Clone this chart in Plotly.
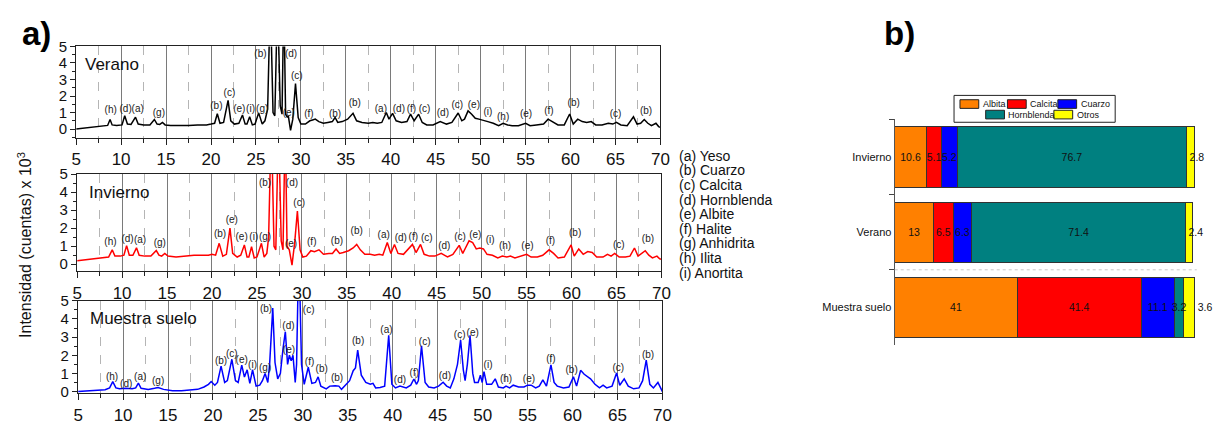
import plotly.graph_objects as go

W, H = 1227, 425
FONT = "Liberation Sans, Arial, sans-serif"

# ---------------- DATA ----------------
# (2-theta, intensity x10^3)
verano = [(5,0.0),(6,0.06),(7,0.12),(8,0.18),(8.5,0.22),(8.77,0.58),(9.0,0.25),(9.5,0.22),(10.1,0.25),(10.4,0.81),(10.7,0.3),
          (11.1,0.28),(11.6,0.72),(11.9,0.3),(12.5,0.25),(13.2,0.25),(13.7,0.58),(14.0,0.3),(14.3,0.28),(14.6,0.4),(14.9,0.25),
          (15.5,0.22),(16.5,0.2),(17.5,0.22),(18.5,0.25),(19.5,0.25),(20.0,0.3),(20.4,0.35),(20.7,0.93),(21.0,0.35),(21.4,0.4),
          (21.9,1.74),(22.2,0.5),(22.6,0.3),(23.1,0.35),(23.5,0.85),(23.8,0.3),(24.0,0.3),(24.3,0.75),(24.6,0.25),(24.9,0.3),
          (25.3,0.98),(25.7,0.3),(26.0,0.5),(26.3,1.2),(26.6,8.0),(26.9,1.0),(27.1,0.8),(27.4,8.0),(27.7,1.4),(27.9,0.9),
          (28.1,8.0),(28.3,0.9),(28.5,0.7),(28.6,0.8),(28.85,-0.08),(29.1,0.6),(29.4,2.75),(29.7,0.7),(30.0,0.3),(30.5,0.3),
          (31.0,0.5),(31.3,0.55),(31.6,0.6),(32.0,0.45),(32.5,0.35),(33.0,0.4),(33.5,0.45),(33.8,0.7),(34.1,0.4),(34.6,0.45),
          (35.2,0.6),(35.8,0.95),(36.2,0.5),(36.8,0.4),(37.5,0.35),(38.0,0.4),(38.5,0.35),(39.0,0.4),(39.5,1.0),(39.8,0.6),
          (40.2,0.95),(40.6,0.5),(41.2,0.4),(41.8,0.45),(42.2,0.9),(42.6,0.5),(43.1,0.9),(43.5,0.4),(44.0,0.25),(44.7,0.25),
          (45.5,0.45),(46.2,0.3),(46.8,0.4),(47.5,0.97),(47.9,0.5),(48.2,0.6),(48.6,1.1),(49.0,0.9),(49.4,0.65),(49.8,0.6),
          (50.2,0.55),(50.8,0.45),(51.4,0.35),(52.0,0.2),(52.5,0.35),(53.0,0.25),(53.5,0.2),(54.2,0.2),(55.0,0.35),(55.5,0.2),
          (56.2,0.25),(57.0,0.3),(57.5,0.6),(58.0,0.45),(58.6,0.25),(59.3,0.25),(59.9,0.91),(60.3,0.3),(60.8,0.6),(61.3,0.45),
          (61.8,0.4),(62.3,0.45),(62.8,0.25),(63.5,0.25),(64.2,0.35),(64.7,0.3),(65.1,0.4),(65.6,0.25),(66.3,0.2),(67.0,0.74),
          (67.4,0.3),(67.8,0.35),(68.2,0.58),(68.6,0.35),(69.0,0.2),(69.5,0.35),(69.8,0.15),(70.0,0.1)]

invierno = [(5,0.2),(6,0.25),(7,0.3),(8,0.35),(8.5,0.4),(8.9,0.8),(9.2,0.45),(9.8,0.45),(10.2,0.5),(10.5,1.03),(10.8,0.5),
            (11.2,0.5),(11.6,0.91),(11.9,0.5),(12.5,0.45),(13.2,0.45),(13.8,0.76),(14.1,0.5),(14.4,0.45),(14.75,0.6),(15.1,0.45),
            (16,0.4),(17,0.45),(18,0.5),(19,0.5),(19.6,0.5),(20.0,0.55),(20.4,0.5),(20.8,1.16),(21.2,0.45),(21.6,0.55),(22.0,2.0),
            (22.3,0.6),(22.8,0.4),(23.2,0.5),(23.6,1.07),(23.9,0.4),(24.1,0.4),(24.4,0.97),(24.7,0.35),(25.0,0.4),(25.5,1.16),
            (25.8,0.4),(26.1,0.6),(26.3,1.5),(26.6,8),(26.9,1.0),(27.1,0.8),(27.4,8),(27.7,1.3),(27.9,0.8),(28.15,8),(28.35,1.0),
            (28.6,0.8),(28.9,-0.05),(29.2,1.2),(29.5,2.95),(29.8,0.8),(30.1,0.4),(30.5,0.45),(31.0,0.75),(31.4,0.7),(31.9,0.8),
            (32.4,0.55),(33.0,0.6),(33.4,0.6),(33.8,0.85),(34.2,0.6),(34.6,0.65),(35.2,0.75),(35.7,0.9),(36.1,1.1),(36.5,0.8),
            (37.0,0.55),(37.6,0.55),(38.1,0.5),(38.6,0.55),(39.0,0.5),(39.5,1.2),(39.9,0.6),(40.3,1.1),(40.7,0.6),(41.3,0.55),
            (41.8,0.8),(42.3,1.1),(42.7,0.65),(43.2,1.1),(43.6,0.55),(44.2,0.45),(44.8,0.45),(45.5,0.6),(46.2,0.4),(46.8,0.55),
            (47.5,1.05),(47.9,0.6),(48.2,0.9),(48.6,1.3),(49.0,1.2),(49.4,0.85),(49.8,0.9),(50.2,0.85),(50.6,0.55),(51.2,0.5),
            (51.8,0.35),(52.3,0.45),(52.8,0.4),(53.2,0.45),(53.7,0.35),(54.3,0.45),(55.0,0.55),(55.5,0.4),(56.2,0.4),(56.8,0.5),
            (57.5,0.8),(58.0,0.6),(58.5,0.35),(59.2,0.4),(59.95,1.07),(60.3,0.45),(60.8,0.85),(61.3,0.55),(61.8,0.7),(62.3,0.65),
            (62.8,0.4),(63.5,0.4),(64.0,0.55),(64.4,0.45),(64.8,0.6),(65.3,0.4),(66.0,0.4),(66.5,0.45),(67.0,0.9),(67.4,0.45),
            (67.8,0.6),(68.2,0.75),(68.6,0.5),(69.0,0.35),(69.5,0.45),(69.8,0.3),(70.0,0.28)]

suelo = [(5,0.0),(6,0.02),(7,0.05),(8,0.1),(8.5,0.2),(8.85,0.55),(9.2,0.2),(9.6,0.15),(10.3,0.18),(11.0,0.15),(11.4,0.2),
         (11.7,0.46),(12.0,0.18),(12.8,0.12),(13.5,0.18),(13.9,0.22),(14.5,0.12),(15.5,0.05),(16.5,0.05),(17.5,0.08),(18.3,0.12),
         (19.0,0.25),(19.5,0.4),(19.8,0.55),(20.2,0.35),(20.5,0.5),(20.9,1.4),(21.3,0.5),(21.6,0.6),(22.1,1.78),(22.5,0.6),
         (22.8,0.5),(23.2,1.46),(23.5,0.8),(23.8,1.2),(24.1,0.45),(24.4,1.2),(24.8,0.3),(25.2,0.35),(25.5,0.6),(25.8,0.99),
         (26.1,0.5),(26.3,1.5),(26.65,4.6),(26.9,1.6),(27.2,0.7),(27.5,1.0),(27.8,2.4),(28.05,3.3),(28.3,1.5),(28.5,2.0),
         (28.7,1.7),(28.9,2.0),(29.15,0.5),(29.3,1.5),(29.55,8),(29.85,1.5),(30.15,0.4),(30.6,1.34),(31.0,0.45),(31.4,0.5),
         (31.7,0.81),(32.0,0.3),(32.6,0.15),(33.0,0.3),(33.6,0.32),(34.0,0.3),(34.3,0.12),(34.7,0.35),(35.2,0.6),(35.6,1.15),
         (35.85,1.3),(36.1,2.28),(36.5,0.9),(37.0,0.5),(37.5,0.4),(37.8,0.45),(38.1,0.2),(38.6,0.22),(39.1,0.3),(39.55,3.1),
         (39.9,0.4),(40.3,0.2),(40.8,0.3),(41.5,0.2),(42.0,0.35),(42.35,0.69),(42.65,0.4),(42.85,0.6),(43.2,2.52),(43.6,0.5),
         (44.0,0.25),(44.6,0.2),(45.1,0.3),(45.6,0.51),(46.0,0.3),(46.4,0.2),(46.8,0.7),(47.2,1.5),(47.55,2.84),(47.85,1.2),
         (48.05,0.6),(48.3,1.5),(48.6,3.1),(48.9,1.0),(49.1,0.5),(49.5,0.5),(49.75,0.9),(49.95,0.5),(50.15,1.1),(50.45,0.4),
         (51.0,0.4),(51.4,0.7),(51.75,0.25),(52.3,0.2),(52.6,0.3),(53.0,0.2),(53.4,0.35),(54.0,0.25),(54.6,0.25),(55.0,0.35),
         (55.4,0.35),(55.9,0.2),(56.3,0.3),(56.7,0.65),(57.1,0.3),(57.6,1.47),(57.95,0.5),(58.3,0.3),(59.0,0.2),(59.6,0.25),
         (60.1,0.81),(60.45,0.3),(60.9,1.17),(61.3,0.95),(61.6,0.85),(62.0,0.7),(62.5,0.4),(63.0,0.2),(63.4,0.35),(63.8,0.2),
         (64.4,0.3),(64.9,1.02),(65.25,0.35),(65.75,0.7),(66.2,0.3),(66.8,0.15),(67.4,0.2),(67.8,0.6),(68.2,1.73),(68.6,0.4),
         (69.0,0.2),(69.5,0.5),(69.8,0.2),(70.0,0.0)]

# peak labels (2-theta, height, phase letter)
verano_labels = [(8.84,1.12,'(h)'),(10.5,1.2,'(d)'),(11.85,1.2,'(a)'),(14.2,0.97,'(g)'),(20.6,1.35,'(b)'),(22.05,2.13,'(c)'),
                 (23.15,1.16,'(e)'),(24.4,1.16,'(i)'),(25.7,1.16,'(g)'),(25.5,4.5,'(b)'),(28.9,4.5,'(d)'),(29.55,3.2,'(c)'),
                 (28.65,0.93,'(e)'),(30.9,0.87,'(f)'),(33.8,0.87,'(b)'),(36.0,1.55,'(b)'),(38.9,1.2,'(a)'),(40.9,1.2,'(d)'),
                 (42.3,1.2,'(f)'),(43.75,1.16,'(c)'),(45.8,0.97,'(d)'),(47.4,1.45,'(c)'),(49.25,1.45,'(e)'),(50.8,1.03,'(i)'),
                 (52.5,0.72,'(h)'),(55.05,0.87,'(e)'),(57.6,1.06,'(f)'),(60.35,1.55,'(b)'),(65.0,0.87,'(c)'),(68.4,1.06,'(b)')]
invierno_labels = [(8.7,1.2,'(h)'),(10.6,1.39,'(d)'),(12.0,1.33,'(a)'),(14.2,1.17,'(g)'),(20.9,1.65,'(b)'),(22.2,2.42,'(e)'),
                   (23.3,1.48,'(e)'),(24.65,1.48,'(i)'),(25.9,1.48,'(g)'),(25.9,4.5,'(b)'),(28.9,4.5,'(d)'),(29.7,3.38,'(c)'),
                   (28.8,1.12,'(e)'),(31.1,1.2,'(f)'),(33.9,1.25,'(b)'),(36.1,1.83,'(b)'),(39.1,1.57,'(a)'),(41.0,1.43,'(d)'),
                   (42.4,1.5,'(f)'),(43.9,1.43,'(c)'),(45.85,1.0,'(d)'),(47.6,1.51,'(c)'),(49.3,1.57,'(e)'),(50.95,1.33,'(i)'),
                   (52.6,1.0,'(h)'),(55.1,1.0,'(e)'),(57.65,1.25,'(f)'),(60.4,1.69,'(b)'),(65.25,1.05,'(c)'),(68.5,1.35,'(b)')]
suelo_labels = [(8.77,0.76,'(h)'),(10.35,0.39,'(d)'),(11.9,0.76,'(a)'),(13.9,0.56,'(g)'),(20.9,1.68,'(b)'),(22.1,2.03,'(c)'),
                (23.2,1.71,'(e)'),(24.4,1.45,'(i)'),(25.8,1.27,'(g)'),(25.9,4.54,'(b)'),(28.4,3.57,'(d)'),(28.45,2.26,'(e)'),
                (30.65,4.45,'(c)'),(30.75,1.59,'(f)'),(32.1,1.23,'(b)'),(33.8,0.74,'(b)'),(36.15,2.74,'(b)'),(39.3,3.36,'(a)'),
                (40.8,0.63,'(d)'),(42.4,1.02,'(f)'),(43.55,2.72,'(c)'),(45.8,0.81,'(d)'),(47.45,3.1,'(c)'),(48.9,3.2,'(e)'),
                (50.6,1.43,'(i)'),(52.6,0.69,'(h)'),(55.15,0.69,'(e)'),(57.6,1.75,'(f)'),(59.9,1.17,'(b)'),(65.1,1.25,'(c)'),
                (68.4,1.99,'(b)')]

phase_key = ["(a) Yeso", "(b) Cuarzo", "(c) Calcita", "(d) Hornblenda", "(e) Albite",
             "(f) Halite", "(g) Anhidrita", "(h) Ilita", "(i) Anortita"]

# panel b: composition (%)
samples = ["Invierno", "Verano", "Muestra suelo"]
albita = [10.6, 13, 41]
calcita = [5.1, 6.5, 41.4]
cuarzo = [5.2, 6.3, 11.1]
hornblenda = [76.7, 71.4, 3.2]
otros = [2.8, 2.4, 3.6]
components = [("Albita", albita, "#FF8000"), ("Calcita", calcita, "#FF0000"), ("Cuarzo", cuarzo, "#0000FF"),
              ("Hornblenda", hornblenda, "#008080"), ("Otros", otros, "#FFFF00")]

# ---------------- LAYOUT HELPERS ----------------
def xd(x0, x1):
    return [x0 / W, x1 / W]

def yd(y0, y1):
    return [1 - y1 / H, 1 - y0 / H]

fig = go.Figure()

panels = [
    ("Verano", verano, verano_labels, "#000000", "x", "y", (72, 663), (39, 134), -0.52),
    ("Invierno", invierno, invierno_labels, "#FF0000", "x2", "y2", (73, 664), (172, 273), -0.38),
    ("Muestra suelo", suelo, suelo_labels, "#0000FF", "x3", "y3", (74, 665), (304, 400), -0.08),
]

layout_axes = {}
annotations = []
for i, (name, pts, labs, color, xa, ya, (px0, px1), (py0, py1), ymin) in enumerate(panels):
    fig.add_trace(go.Scatter(x=[p[0] for p in pts], y=[p[1] for p in pts], mode="lines",
                             line=dict(color=color, width=1.5), xaxis=xa, yaxis=ya,
                             showlegend=False, hoverinfo="skip"))
    fig.add_trace(go.Scatter(x=[l[0] for l in labs], y=[l[1] for l in labs], text=[l[2] for l in labs],
                             mode="text", textfont=dict(family=FONT, size=10, color="#222222"),
                             textposition="middle center", xaxis=xa, yaxis=ya, cliponaxis=False,
                             showlegend=False, hoverinfo="skip"))
    suffix = "" if i == 0 else str(i + 1)
    layout_axes["xaxis" + suffix] = dict(
        domain=xd(px0, px1), anchor=ya, range=[5, 70], tick0=5, dtick=5,
        ticks="outside", ticklen=6, tickwidth=1.2, tickcolor="#222",
        showline=True, mirror=True, linecolor="#222", linewidth=1.4,
        showgrid=True, gridcolor="#7a7a7a", gridwidth=1.4, zeroline=False,
        minor=dict(dtick=2.5, tick0=5, ticks="outside", ticklen=4, tickcolor="#222",
                   showgrid=True, griddash="dash", gridcolor="#b5b5b5", gridwidth=1.2),
        tickfont=dict(family=FONT, size=17, color="#111"))
    layout_axes["yaxis" + suffix] = dict(
        domain=yd(py0, py1), anchor=xa, range=[ymin, 5], tick0=0, dtick=1,
        ticks="outside", ticklen=5, tickwidth=1.2, tickcolor="#222",
        showline=True, mirror=True, linecolor="#222", linewidth=1.4,
        showgrid=False, zeroline=False,
        minor=dict(dtick=0.5, tick0=0, ticks="outside", ticklen=3, tickcolor="#222"),
        tickfont=dict(family=FONT, size=15, color="#111"))
    annotations.append(dict(text=name, xref=xa + " domain", yref=ya + " domain", x=0.012 if i == 0 else 0.016,
                            y=0.93, xanchor="left", yanchor="top", showarrow=False,
                            font=dict(family=FONT, size=17, color="#111")))

# panel b bars (coloured segments)
for cname, vals, col in components:
    fig.add_trace(go.Bar(y=samples, x=vals, orientation="h", name=cname,
                         marker=dict(color=col, line=dict(color="#333", width=1)),
                         xaxis="x4", yaxis="y4", showlegend=False, hoverinfo="skip"))
# value labels: same stacked bars, transparent, on an overlaid subplot so text sits above every segment
for cname, vals, col in components:
    if cname == "Otros":
        tpos = ["inside", "inside", "outside"]
    else:
        tpos = "inside"
    fig.add_trace(go.Bar(y=samples, x=vals, orientation="h", name=cname + " valor",
                         marker=dict(color="rgba(0,0,0,0)", line=dict(width=0)),
                         text=[f"{v:g}" for v in vals], textposition=tpos,
                         insidetextanchor="start" if cname == "Otros" else "middle",
                         constraintext="none", textangle=0,
                         insidetextfont=dict(family=FONT, size=10.5, color="#111"),
                         outsidetextfont=dict(family=FONT, size=10.5, color="#111"),
                         xaxis="x5", yaxis="y5", showlegend=False, hoverinfo="skip", cliponaxis=False))

layout_axes["xaxis4"] = dict(domain=xd(900, 1204), anchor="y4", range=[0, 100.5], visible=False)
layout_axes["yaxis4"] = dict(domain=yd(115, 350), anchor="x4", range=[2.5, -0.5], type="category",
                             categoryorder="array", categoryarray=samples,
                             ticks="outside", tickson="boundaries", ticklen=5, tickcolor="#444",
                             showline=True, linecolor="#555", linewidth=1.2, showgrid=False,
                             tickfont=dict(family=FONT, size=11, color="#111"))
layout_axes["xaxis5"] = dict(overlaying="x4", anchor="y5", range=[0, 100.5], visible=False)
layout_axes["yaxis5"] = dict(overlaying="y4", anchor="x5", range=[2.5, -0.5], type="category",
                             categoryorder="array", categoryarray=samples, visible=False)

# y title & panel letters
annotations.append(dict(text="Intensidad (cuentas) x 10<sup>3</sup>", xref="paper", yref="paper",
                        x=20 / W, y=1 - 246 / H, xanchor="center", yanchor="middle", textangle=-90, showarrow=False,
                        font=dict(family=FONT, size=16, color="#111")))
annotations.append(dict(text="<b>a)</b>", xref="paper", yref="paper", x=32 / W, y=1 - 26 / H,
                        xanchor="center", yanchor="middle",
                        showarrow=False, font=dict(family=FONT, size=33, color="#000")))
annotations.append(dict(text="<b>b)</b>", xref="paper", yref="paper", x=905 / W, y=1 - 26 / H,
                        xanchor="center", yanchor="middle",
                        showarrow=False, font=dict(family=FONT, size=33, color="#000")))

# phase key text
for k, t in enumerate(phase_key):
    annotations.append(dict(text=t, xref="paper", yref="paper", x=680 / W, y=1 - (153 + 15.2 * k) / H,
                            xanchor="left", yanchor="middle", showarrow=False,
                            font=dict(family=FONT, size=14, color="#111")))

# manual legend for panel b
shapes = [dict(type="rect", xref="paper", yref="paper", x0=960 / W, x1=1123 / W, y0=1 - 118 / H, y1=1 - 90 / H,
               line=dict(color="#222", width=1), fillcolor="white"),
          dict(type="line", xref="x4 domain", yref="y4", x0=0, x1=1.005, y0=1.5, y1=1.5,
               line=dict(color="#c8c8c8", width=1, dash="dot"))]
legend_slots = [(966, 99), (1014, 99), (1065, 99), (992, 110), (1061, 110)]
for (cname, vals, col), (lx, ly) in zip(components, legend_slots):
    shapes.append(dict(type="rect", xref="paper", yref="paper", x0=lx / W, x1=(lx + 19) / W,
                       y0=1 - (ly + 4.5) / H, y1=1 - (ly - 4.5) / H, line=dict(color="#222", width=1), fillcolor=col))
    annotations.append(dict(text=cname, xref="paper", yref="paper", x=(lx + 21) / W, y=1 - ly / H,
                            xanchor="left", yanchor="middle", showarrow=False,
                            font=dict(family=FONT, size=9, color="#111")))

fig.update_layout(width=W, height=H, margin=dict(l=0, r=0, t=0, b=0),
                  paper_bgcolor="white", plot_bgcolor="white",
                  barmode="stack", bargap=0.2, showlegend=False,
                  annotations=annotations, shapes=shapes, **layout_axes)

fig.write_html("out.html")
